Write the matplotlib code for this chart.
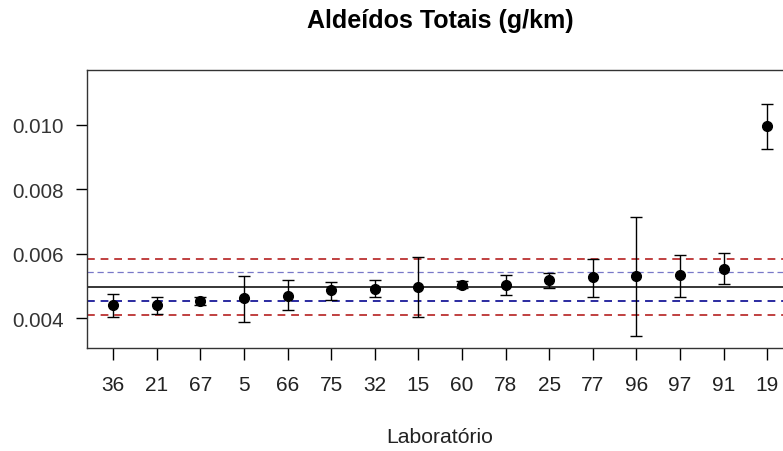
import matplotlib
matplotlib.use("Agg")
import matplotlib.pyplot as plt

# Laboratory codes in plotting order and their results (g/km)
labs = ["36", "21", "67", "5", "66", "75", "32", "15",
        "60", "78", "25", "77", "96", "97", "91", "19"]
media = [0.00442, 0.00442, 0.00454, 0.00463, 0.00471, 0.00487, 0.00492, 0.00499,
         0.00503, 0.00503, 0.00519, 0.00528, 0.00532, 0.00536, 0.00553, 0.00996]
lim_sup = [0.00475, 0.00467, 0.00467, 0.00532, 0.00519, 0.00512, 0.00519, 0.00590,
           0.00516, 0.00536, 0.00540, 0.00585, 0.00715, 0.00597, 0.00602, 0.01065]
lim_inf = [0.00406, 0.00413, 0.00442, 0.00388, 0.00426, 0.00458, 0.00467, 0.00406,
           0.00493, 0.00474, 0.00496, 0.00467, 0.00345, 0.00467, 0.00507, 0.00927]

# Reference lines
valor_ref = 0.00499
ref_inf, ref_sup = 0.00453, 0.00543
tol_inf, tol_sup = 0.00412, 0.00585

plt.rcParams["font.family"] = ["Liberation Sans", "DejaVu Sans"]

fig = plt.figure(figsize=(7.83, 4.52), dpi=100)
ax = fig.add_axes([87 / 783, 1 - 349 / 452, (793.5 - 87) / 783, (349 - 71) / 452])

x = list(range(1, len(labs) + 1))
yerr = [[m - lo for m, lo in zip(media, lim_inf)],
        [hi - m for m, hi in zip(media, lim_sup)]]

ax.axhline(valor_ref, color="black", lw=1.1, zorder=1)
ax.axhline(ref_sup, color="#7878c8", lw=0.9, ls=(0, (5, 3)), zorder=1)
ax.axhline(ref_inf, color="#2a2aa0", lw=1.4, ls=(0, (4, 3)), zorder=1)
ax.axhline(tol_sup, color="#c04040", lw=1.4, ls=(0, (4, 3)), zorder=1)
ax.axhline(tol_inf, color="#c04040", lw=1.4, ls=(0, (4, 3)), zorder=1)

ax.errorbar(x, media, yerr=yerr, fmt="o", color="black", ms=7,
            ecolor="black", elinewidth=1.0, capsize=4, capthick=1.0, zorder=3)

ax.set_xlim(0.4, 16.6)
ax.set_ylim(0.003085, 0.011705)
ax.set_xticks(x)
ax.set_xticklabels(labs)
ax.set_yticks([0.004, 0.006, 0.008, 0.010])
ax.set_yticklabels(["0.004", "0.006", "0.008", "0.010"])
ax.tick_params(axis="x", length=8.5, width=1.0, pad=11, labelsize=15, colors="black",
               labelcolor="#222222")
ax.tick_params(axis="y", length=8, width=1.0, pad=9, labelsize=14.8, labelcolor="#333333")

for s in ax.spines.values():
    s.set_linewidth(1.0)
    s.set_color("#333333")

fig.text(440 / 783, 1 - 21 / 452, "Aldeídos Totais (g/km)", ha="center", va="center",
         fontsize=18, fontweight="bold")
fig.text(440 / 783, 1 - 438 / 452, "Laboratório", ha="center", va="center",
         fontsize=15.2, color="#222222")

fig.savefig("out.png", dpi=100)
